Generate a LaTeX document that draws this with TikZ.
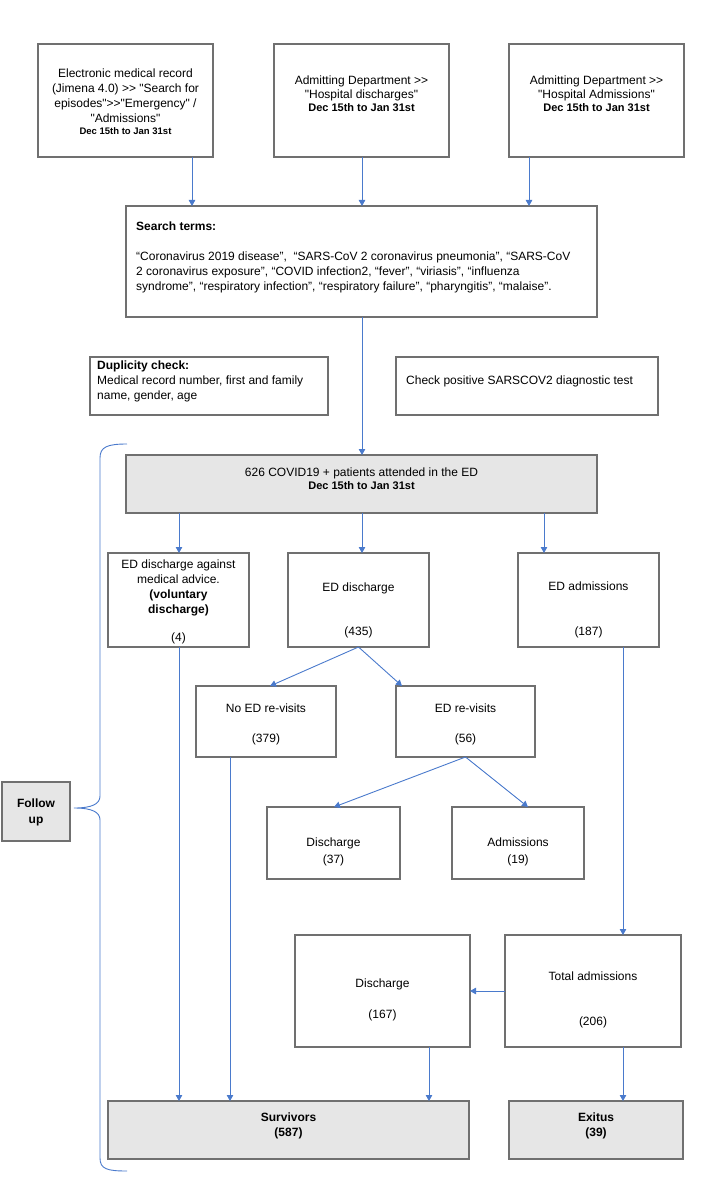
\documentclass[tikz,border=0pt]{standalone}
\usepackage{fontspec}
\setmainfont{Liberation Sans}[Ligatures=TeXOff]
\usetikzlibrary{arrows.meta}
\definecolor{boxline}{RGB}{112,112,112}
\definecolor{boxfill}{RGB}{230,230,230}
\definecolor{arrowblue}{RGB}{74,122,204}
\newcommand{\bx}[6]{\node[#1, minimum width={#4pt-#2pt}, minimum height={#5pt-#3pt}] (#6) at (#2,#3) {};}
\begin{document}
\begin{tikzpicture}[x=1pt,y=-1pt,
  box/.style={draw=boxline, line width=1.2pt, inner sep=0pt, outer sep=0pt, anchor=north west},
  graybox/.style={box, fill=boxfill},
  txt/.style={inner sep=0pt, anchor=north, align=center, font=\fontsize{12}{15}\selectfont},
  ltxt/.style={txt, anchor=north west, align=left},
  btxt/.style={txt, font=\fontsize{12}{15}\selectfont\bfseries},
  arr/.style={draw=arrowblue, line width=0.9pt, -{Triangle[length=6pt,width=6.5pt]}},
  brace/.style={draw=arrowblue, line width=0.9pt}
]
\useasboundingbox (0,0) rectangle (705,1182);

% boxes
\bx{box}{38}{44}{213}{157}{b1}
\bx{box}{274}{44}{449}{157}{b2}
\bx{box}{509}{44}{684}{157}{b3}
\bx{box}{126}{206}{597}{317}{st}
\bx{box}{90}{357}{328}{415}{dup}
\bx{box}{396}{357}{658}{415}{chk}
\bx{graybox}{126}{455}{597}{513}{c626}
\bx{box}{108}{553}{249}{647}{edag}
\bx{box}{288}{553}{429}{647}{edd}
\bx{box}{518}{553}{659}{647}{edadm}
\bx{box}{196}{686}{336}{757}{noed}
\bx{box}{396}{686}{535}{757}{edrv}
\bx{box}{267}{807}{400}{879}{dis37}
\bx{box}{452}{807}{584}{879}{adm19}
\bx{box}{295}{935}{470}{1047}{dis167}
\bx{box}{505}{935}{681}{1047}{totadm}
\bx{graybox}{108}{1101}{469}{1159}{surv}
\bx{graybox}{509}{1101}{683}{1159}{exitus}
\bx{graybox}{2}{782}{70}{841}{fu}

% texts
\node[txt] (t1) at (125.5,68.5) {Electronic medical record\\(Jimena 4.0) >> "Search for\\episodes">>"Emergency" /\\"Admissions"\\[-2.9pt]{\fontsize{9.5}{15}\selectfont\bfseries Dec 15th to Jan 31st}};
\node[txt] (t2) at (361.5,75.5) {Admitting Department >>\\[-1pt]"Hospital discharges"\\[-1.4pt]{\fontsize{11}{15}\selectfont\bfseries Dec 15th to Jan 31st}};
\node[txt] (t3) at (596.5,75.5) {Admitting Department >>\\[-1pt]"Hospital Admissions"\\[-1.4pt]{\fontsize{11}{15}\selectfont\bfseries Dec 15th to Jan 31st}};
\node[ltxt] (tst) at (136,221.5) {\textbf{Search terms:}\\[15pt]“Coronavirus 2019 disease”,\ \ “SARS-CoV 2 coronavirus pneumonia”, “SARS-CoV\\2 coronavirus exposure”, “COVID infection2, “fever”, “viriasis”, “influenza\\syndrome”, “respiratory infection”, “respiratory failure”, “pharyngitis”, “malaise”.};
\node[ltxt] (tdup) at (97,360.5) {\textbf{Duplicity check:}\\Medical record number, first and family\\name, gender, age};
\node[ltxt] (tchk) at (406,375.5) {Check positive SARSCOV2 diagnostic test};
\node[txt] (t626) at (361.5,467.5) {626 COVID19 + patients attended in the ED\\[-1.4pt]{\fontsize{11}{15}\selectfont\bfseries Dec 15th to Jan 31st}};
\node[txt] (tedag) at (178.5,559.5) {ED discharge against\\medical advice.\\\textbf{(voluntary}\\\textbf{discharge)}\\[13pt](4)};
\node[txt] (tedd) at (358.5,582.5) {ED discharge\\[29pt](435)};
\node[txt] (tedadm) at (588.5,581.5) {ED admissions\\[30pt](187)};
\node[txt] (tnoed) at (266,703.5) {No ED re-visits\\[15pt](379)};
\node[txt] (tedrv) at (465.5,703.5) {ED re-visits\\[15pt](56)};
\node[txt] (tdis37) at (333.5,837.5) {Discharge\\[2pt](37)};
\node[txt] (tadm19) at (518,837.5) {Admissions\\[2pt](19)};
\node[txt] (tdis167) at (382.5,978.5) {Discharge\\[16pt](167)};
\node[txt] (ttot) at (593,971.5) {Total admissions\\[30pt](206)};
\node[btxt] (tsurv) at (288.5,1112.5) {Survivors\\(587)};
\node[btxt] (texit) at (596,1112.5) {Exitus\\(39)};
\node[btxt] (tfu) at (36,798.5) {Follow\\[1pt]up};

% connectors
\draw[arr] (b1.south -| 192,0) -- (st.north -| 192,0);
\draw[arr] (b2.south -| 362,0) -- (st.north -| 362,0);
\draw[arr] (b3.south -| 529,0) -- (st.north -| 529,0);
\draw[arr] (st.south -| 362,0) -- (c626.north -| 362,0);
\draw[arr] (c626.south -| 179,0) -- (edag.north -| 179,0);
\draw[arr] (c626.south -| 362,0) -- (edd.north -| 362,0);
\draw[arr] (c626.south -| 544,0) -- (edadm.north -| 544,0);
\draw[arr] (edd.south) -- (noed.north -| 270,0);
\draw[arr] (edd.south) -- (edrv.north -| 402,0);
\draw[arr] (edrv.south) -- (dis37.north -| 334,0);
\draw[arr] (edrv.south) -- (adm19.north -| 528,0);
\draw[arr] (edadm.south -| 623,0) -- (totadm.north -| 623,0);
\draw[arr] (totadm.west |- 0,991) -- (dis167.east |- 0,991);
\draw[arr] (edag.south -| 179,0) -- (surv.north -| 179,0);
\draw[arr] (noed.south -| 230,0) -- (surv.north -| 230,0);
\draw[arr] (dis167.south -| 429,0) -- (surv.north -| 429,0);
\draw[arr] (totadm.south -| 623,0) -- (exitus.north -| 623,0);

% brace
\draw[brace] (127,444) .. controls (107,444) and (100,447) .. (100,458)
  -- (100,796) .. controls (100,804) and (92,808) .. (74,808)
  .. controls (92,808) and (100,812) .. (100,820)
  -- (100,1158) .. controls (100,1169) and (107,1171) .. (127,1171);
\end{tikzpicture}
\end{document}
